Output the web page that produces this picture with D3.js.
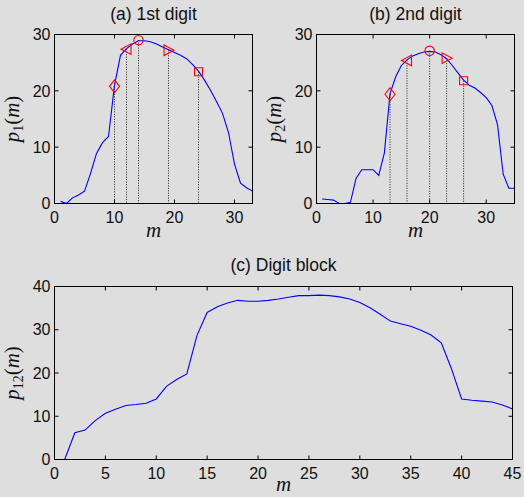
<!DOCTYPE html>
<html>
<head>
<meta charset="utf-8">
<script src="https://cdn.jsdelivr.net/npm/d3@7"></script>
<style>
  html, body { margin: 0; padding: 0; background: #dedede; }
  svg { display: block; }
</style>
</head>
<body>
<script>
// ---- Data ----
const mA = [1,2,3,4,5,6,7,8,9,10,11,12,13,14,15,16,17,18,19,20,21,22,23,24,25,26,27,28,29,30,31,32,33];
const pA = [0.4,0,1.0,1.5,2.2,5.3,8.9,10.8,11.9,21.0,26.3,27.5,28.3,28.9,28.9,28.7,28.3,27.8,27.3,26.8,26.3,25.7,24.7,23.5,21.9,20.1,18.1,16.0,12.6,7.0,3.6,2.8,2.2];
const markA_m = [10,12,14,19,24];
const markA_p = [20.8,27.4,29.0,27.2,23.4];

const mB = [1,2,3,4,5,6,7,8,9,10,11,12,13,14,15,16,17,18,19,20,21,22,23,24,25,26,27,28,29,30,31,32,33,34,35];
const pB = [0.8,0.7,0.6,0,0,0.2,4.5,6.0,6.0,6.0,5.0,9.0,19.5,22.5,24.5,25.5,26.2,26.6,26.9,27.0,26.9,26.4,25.7,24.5,23.2,21.9,21.0,20.5,19.7,18.8,17.4,14.0,5.2,2.7,2.7];
const markB_m = [13,16,20,23,26];
const markB_p = [19.4,25.4,27.1,25.8,21.8];

const mC = [1,2,3,4,5,6,7,8,9,10,11,12,13,14,15,16,17,18,19,20,21,22,23,24,25,26,27,28,29,30,31,32,33,34,35,36,37,38,39,40,41,42,43,44,45];
const pC = [0,6.2,6.8,9.0,10.7,11.6,12.5,12.7,13.0,14.0,16.9,18.5,19.8,28.7,34.0,35.3,36.2,36.8,36.6,36.6,36.8,37.1,37.5,37.9,37.9,38.0,37.9,37.6,37.1,36.3,35.1,33.6,32.0,31.4,30.8,29.9,28.8,27.0,21.0,14.0,13.7,13.5,13.3,12.6,11.7];

const markShapes = ["diamond","left","circle","right","square"];

const ticksAB = [0,10,20,30];
const ticksCx = [0,5,10,15,20,25,30,35,40,45];
const ticksCy = [0,10,20,30,40];

const titles = ["(a) 1st digit","(b) 2nd digit","(c) Digit block"];
const ySubs = ["1","2","12"];

// ---- Drawing ----
const W = 524, H = 497;
const svg = d3.select("body").append("svg").attr("width", W).attr("height", H);
svg.append("rect").attr("width", W).attr("height", H).attr("fill", "#dedede");

const shapePaths = {
  diamond: "M0,-6.5L5,0L0,6.5L-5,0Z",
  left: "M-5.5,0L4.5,-5.3L4.5,5.3Z",
  right: "M5.5,0L-4.5,-5.3L-4.5,5.3Z",
  square: "M-4,-4H4V4H-4Z"
};

function panel(cfg) {
  const x = d3.scaleLinear().domain(cfg.xd).range([cfg.l, cfg.r]);
  const y = d3.scaleLinear().domain(cfg.yd).range([cfg.b, cfg.t]);
  const g = svg.append("g");

  // dotted drop lines
  if (cfg.mm) {
    g.selectAll("line.drop").data(cfg.mm).enter().append("line")
      .attr("x1", (d) => x(d)).attr("x2", (d) => x(d))
      .attr("y1", (d, i) => y(cfg.mp[i])).attr("y2", y(0))
      .attr("stroke", "#222").attr("stroke-width", 1)
      .attr("stroke-dasharray", "1,1.5");
  }

  // line
  const line = d3.line().x((d, i) => x(cfg.m[i])).y((d) => y(d));
  g.append("path").datum(cfg.p).attr("d", line)
    .attr("fill", "none").attr("stroke", "#0000ff").attr("stroke-width", 1.1);

  // markers
  if (cfg.mm) {
    cfg.mm.forEach((mv, i) => {
      const s = markShapes[i];
      const cx = x(mv), cy = y(cfg.mp[i]);
      if (s === "circle") {
        g.append("circle").attr("cx", cx).attr("cy", cy).attr("r", 4.7)
          .attr("fill", "none").attr("stroke", "#ff0000").attr("stroke-width", 1.1);
      } else {
        g.append("path").attr("d", shapePaths[s])
          .attr("transform", `translate(${cx},${cy})`)
          .attr("fill", "none").attr("stroke", "#ff0000").attr("stroke-width", 1.1);
      }
    });
  }

  // box
  g.append("rect").attr("x", cfg.l).attr("y", cfg.t)
    .attr("width", cfg.r - cfg.l).attr("height", cfg.b - cfg.t)
    .attr("fill", "none").attr("stroke", "#000").attr("stroke-width", 1);

  const tl = 4;
  const xt = g.append("g");
  cfg.xt.forEach(v => {
    const px = x(v);
    xt.append("line").attr("x1", px).attr("x2", px).attr("y1", cfg.b).attr("y2", cfg.b - tl).attr("stroke", "#000");
    xt.append("line").attr("x1", px).attr("x2", px).attr("y1", cfg.t).attr("y2", cfg.t + tl).attr("stroke", "#000");
    xt.append("text").attr("x", px).attr("y", cfg.b + 19.5)
      .attr("text-anchor", "middle").attr("font-family", "Liberation Sans, Arial, sans-serif")
      .attr("font-size", 16).attr("fill", "#111").text(v);
  });
  cfg.yt.forEach(v => {
    const py = y(v);
    xt.append("line").attr("x1", cfg.l).attr("x2", cfg.l + tl).attr("y1", py).attr("y2", py).attr("stroke", "#000");
    xt.append("line").attr("x1", cfg.r).attr("x2", cfg.r - tl).attr("y1", py).attr("y2", py).attr("stroke", "#000");
    xt.append("text").attr("x", cfg.l - 4).attr("y", py + 5.7)
      .attr("text-anchor", "end").attr("font-family", "Liberation Sans, Arial, sans-serif")
      .attr("font-size", 16).attr("fill", "#111").text(v);
  });

  // title
  g.append("text").attr("x", (cfg.l + cfg.r) / 2).attr("y", cfg.titleY)
    .attr("text-anchor", "middle").attr("font-family", "Liberation Sans, Arial, sans-serif")
    .attr("font-size", 17.5).attr("fill", "#111").text(cfg.title);

  // x label
  g.append("text").attr("x", (cfg.l + cfg.r) / 2).attr("y", cfg.xlabY)
    .attr("text-anchor", "middle").attr("font-family", "Liberation Serif, Times New Roman, serif")
    .attr("font-style", "italic").attr("font-size", 21).attr("fill", "#111").text("m");

  // y label
  const yl = g.append("text")
    .attr("transform", `translate(${cfg.ylabX},${(cfg.t + cfg.b) / 2}) rotate(-90)`)
    .attr("text-anchor", "middle").attr("font-family", "Liberation Serif, Times New Roman, serif")
    .attr("font-size", 21).attr("fill", "#111");
  yl.append("tspan").attr("font-style", "italic").text("p");
  yl.append("tspan").attr("font-size", 14).attr("dy", 4).text(cfg.sub);
  yl.append("tspan").attr("dy", -4).text("(");
  yl.append("tspan").attr("font-style", "italic").text("m");
  yl.append("tspan").text(")");
}

panel({ l: 54.5, r: 252.5, t: 34.5, b: 203.5, xd: [0,33], yd: [0,30], xt: ticksAB, yt: ticksAB,
  m: mA, p: pA, mm: markA_m, mp: markA_p, title: titles[0], titleY: 20, xlabY: 237, ylabX: 19, sub: ySubs[0] });
panel({ l: 316.5, r: 514.5, t: 34.5, b: 203.5, xd: [0,35], yd: [0,30], xt: ticksAB, yt: ticksAB,
  m: mB, p: pB, mm: markB_m, mp: markB_p, title: titles[1], titleY: 20, xlabY: 237, ylabX: 281, sub: ySubs[1] });
panel({ l: 54.5, r: 512.5, t: 286.5, b: 459.5, xd: [0,45], yd: [0,40], xt: ticksCx, yt: ticksCy,
  m: mC, p: pC, title: titles[2], titleY: 271, xlabY: 491, ylabX: 19, sub: ySubs[2] });
</script>
</body>
</html>
